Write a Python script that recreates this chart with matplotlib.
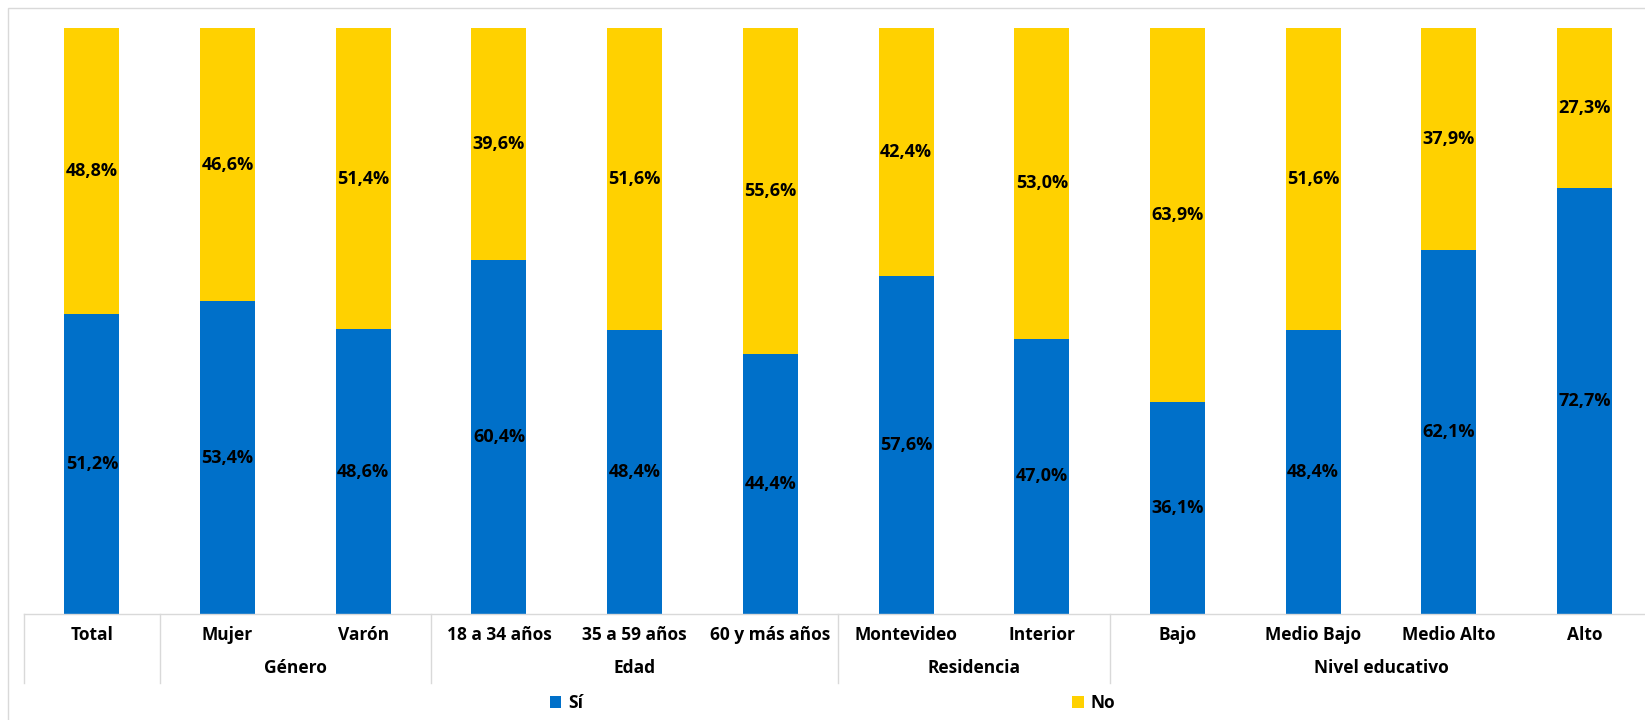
import matplotlib
matplotlib.use("Agg")
import matplotlib.pyplot as plt
from matplotlib.patches import Rectangle, Patch
from matplotlib.transforms import blended_transform_factory

# Survey answers by group (percent)
categories = ["Total", "Mujer", "Varón", "18 a 34 años", "35 a 59 años", "60 y más años",
              "Montevideo", "Interior", "Bajo", "Medio Bajo", "Medio Alto", "Alto"]
si_values = [51.2, 53.4, 48.6, 60.4, 48.4, 44.4, 57.6, 47.0, 36.1, 48.4, 62.1, 72.7]
no_values = [48.8, 46.6, 51.4, 39.6, 51.6, 55.6, 42.4, 53.0, 63.9, 51.6, 37.9, 27.3]
group_names = ["", "Género", "Edad", "Residencia", "Nivel educativo"]
group_sizes = [1, 2, 3, 2, 4]
series_names = ["Sí", "No"]

BLUE = "#0070C9"
YELLOW = "#FFD100"
GRID = "#D9D9D9"
FONT = ["Open Sans", "DejaVu Sans"]

plt.rcParams["font.family"] = FONT

W, H = 1645, 720
fig = plt.figure(figsize=(W / 100, H / 100), dpi=100)

# Axes in pixel terms: baseline at y=614, 100% at y=28, category slots of ~135.7 px starting at x=24
slot = 135.7
left_px, base_px, top_px = 24, 614, 28
ax = fig.add_axes([left_px / W, (H - base_px) / H,
                   slot * len(categories) / W, (base_px - top_px) / H])

x = list(range(len(categories)))
bw = 0.405
ax.bar(x, si_values, width=bw, color=BLUE, label=series_names[0])
ax.bar(x, no_values, width=bw, bottom=si_values, color=YELLOW, label=series_names[1])

def fmt(v):
    return f"{v:.1f}%".replace(".", ",")

for i, (s, n) in enumerate(zip(si_values, no_values)):
    ax.text(i, s / 2, fmt(s), ha="center", va="center", fontsize=13,
            fontweight="bold", color="black")
    ax.text(i, s + n / 2, fmt(n), ha="center", va="center", fontsize=13,
            fontweight="bold", color="black")

ax.set_xlim(-0.5, len(categories) - 0.5)
ax.set_ylim(0, 100)
ax.set_yticks([])
ax.set_xticks(x)
ax.set_xticklabels(categories, fontsize=12.5, fontweight="bold")
ax.tick_params(axis="x", length=0, pad=9)
for side in ("top", "left", "right"):
    ax.spines[side].set_visible(False)
ax.spines["bottom"].set_color(GRID)
ax.spines["bottom"].set_linewidth(1)

# Multi-level category axis: group labels and separators
trans = blended_transform_factory(ax.transData, ax.transAxes)
sep_bottom = -(683 - base_px) / (base_px - top_px)
group_y = -(668 - base_px) / (base_px - top_px)
start = 0
boundaries = [-0.5]
for name, size in zip(group_names, group_sizes):
    end = start + size
    if name:
        ax.text((start + end - 1) / 2, group_y, name, transform=trans, ha="center",
                va="center", fontsize=12.5, fontweight="bold")
    boundaries.append(end - 0.5)
    start = end
for b in boundaries:
    ax.plot([b, b], [0, sep_bottom], transform=trans, color=GRID, lw=1, clip_on=False)

# Legend
handles = [Patch(facecolor=BLUE), Patch(facecolor=YELLOW)]
fig.legend(handles, series_names, loc="center", bbox_to_anchor=(0.506, (H - 703) / H),
           ncol=2, frameon=False, handlelength=0.65, handleheight=0.65, handletextpad=0.4,
           columnspacing=28.2, prop={"family": FONT, "weight": "bold", "size": 12.5})

# Outer chart border
fig.patches.append(Rectangle((8, -10), W + 20, H - 8 + 10, transform=None,
                             fill=False, edgecolor=GRID, lw=1))

fig.savefig("out.png", dpi=100, facecolor="white")
